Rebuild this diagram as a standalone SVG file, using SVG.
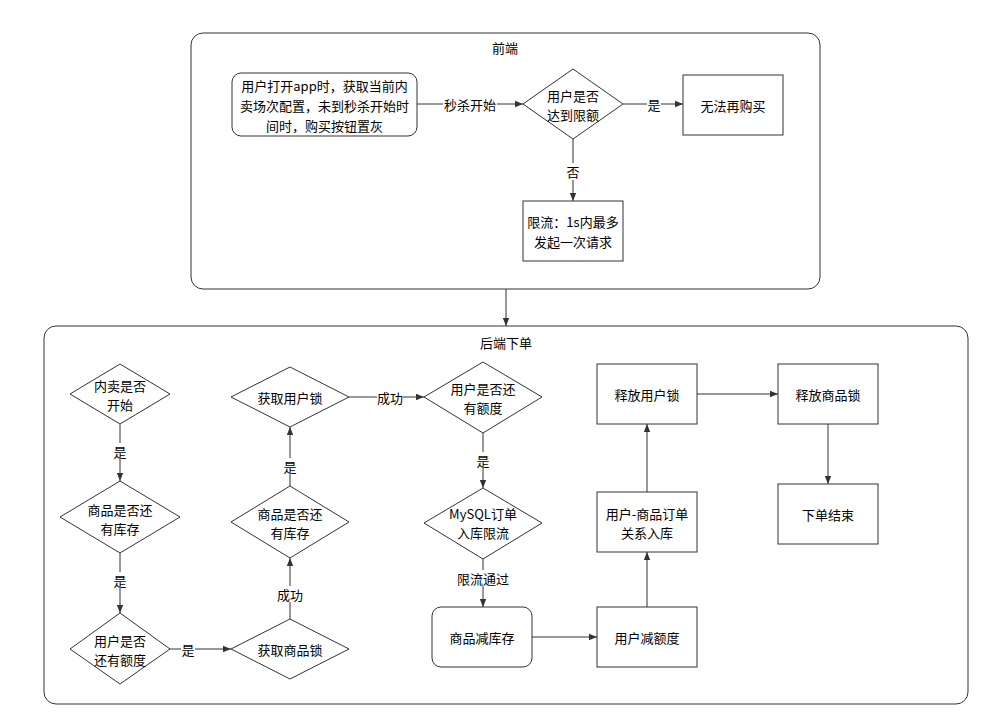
<svg xmlns="http://www.w3.org/2000/svg" width="989" height="721" viewBox="0 0 989 721">
<defs>
<style>
.c{fill:#fff;stroke:#333;stroke-width:1}
.n{fill:#fff;stroke:#333;stroke-width:1}
.t{font-family:"Noto Sans CJK SC","Noto Sans",sans-serif;font-size:13px;fill:#000;text-anchor:middle;dominant-baseline:central}
.e{fill:none;stroke:#333;stroke-width:1;marker-end:url(#a)}
.lb{fill:#fff}
</style>
<marker id="a" viewBox="0 0 10 10" refX="10" refY="5" markerWidth="8" markerHeight="8" markerUnits="userSpaceOnUse" orient="auto">
<path d="M0,1 L10,5 L0,9 Z" fill="#333"/>
</marker>
</defs>
<rect width="989" height="721" fill="#fff"/>
<g id="frontend">
<rect class="c" x="191" y="33" width="629" height="256" rx="12"/>
<text class="t" x="505" y="47">前端</text>
</g>
<g id="backend">
<rect class="c" x="44" y="326" width="924" height="378" rx="12"/>
<text class="t" x="506" y="342">后端下单</text>
</g>
<g id="connectors">
<path class="e" d="M417,104 L523,104"/>
<rect class="lb" x="443" y="96" width="54" height="16"/>
<text class="t" x="470" y="104">秒杀开始</text>
<path class="e" d="M623,104 L683,104"/>
<rect class="lb" x="647" y="96" width="14" height="16"/>
<text class="t" x="654" y="104">是</text>
<path class="e" d="M573,139 L573,201"/>
<rect class="lb" x="566" y="163" width="14" height="17"/>
<text class="t" x="573" y="171">否</text>
<path class="e" d="M506,289 L506,326"/>

<path class="e" d="M120,424 L120,481"/>
<rect class="lb" x="113" y="443" width="14" height="16"/>
<text class="t" x="120" y="451">是</text>
<path class="e" d="M120,553 L120,613"/>
<rect class="lb" x="113" y="572" width="14" height="16"/>
<text class="t" x="120" y="580">是</text>
<path class="e" d="M170,649 L231,649"/>
<rect class="lb" x="181" y="641" width="14" height="16"/>
<text class="t" x="188" y="649">是</text>
<path class="e" d="M290,619 L290,558"/>
<rect class="lb" x="277" y="586" width="26" height="16"/>
<text class="t" x="290" y="594">成功</text>
<path class="e" d="M290,486 L290,427"/>
<rect class="lb" x="283" y="458" width="14" height="16"/>
<text class="t" x="290" y="466">是</text>
<path class="e" d="M349,397 L424,397"/>
<rect class="lb" x="377" y="389" width="26" height="16"/>
<text class="t" x="390" y="397">成功</text>
<path class="e" d="M483,433 L483,488"/>
<rect class="lb" x="476" y="452" width="14" height="16"/>
<text class="t" x="483" y="460">是</text>
<path class="e" d="M483,559 L483,607"/>
<rect class="lb" x="457" y="570" width="52" height="16"/>
<text class="t" x="483" y="578">限流通过</text>
<path class="e" d="M532,637 L597,637"/>
<path class="e" d="M647,607 L647,552"/>
<path class="e" d="M647,492 L647,424"/>
<path class="e" d="M697,394 L778,394"/>
<path class="e" d="M828,424 L828,484"/>
</g>
<g id="n1">
<rect class="n" x="232" y="73" width="185" height="63" rx="9"/>
<text class="t" x="324.5" y="85">用户打开app时，获取当前内</text>
<text class="t" x="324.5" y="105">卖场次配置，未到秒杀开始时</text>
<text class="t" x="324.5" y="125">间时，购买按钮置灰</text>
</g>
<g id="n2">
<path class="n" d="M573,69 L623,104 L573,139 L523,104 Z"/>
<text class="t" x="573" y="95">用户是否</text>
<text class="t" x="573" y="114">达到限额</text>
</g>
<g id="n3">
<rect class="n" x="683" y="75" width="100" height="60"/>
<text class="t" x="733" y="105">无法再购买</text>
</g>
<g id="n4">
<rect class="n" x="523" y="201" width="100" height="60"/>
<text class="t" x="573" y="221">限流：1s内最多</text>
<text class="t" x="573" y="241">发起一次请求</text>
</g>
<g id="b1">
<path class="n" d="M120,364 L170,394 L120,424 L70,394 Z"/>
<text class="t" x="120" y="385">内卖是否</text>
<text class="t" x="120" y="404">开始</text>
</g>
<g id="b2">
<path class="n" d="M120,481 L180,517 L120,553 L60,517 Z"/>
<text class="t" x="120" y="509">商品是否还</text>
<text class="t" x="120" y="528">有库存</text>
</g>
<g id="b3">
<path class="n" d="M120,613 L170,649 L120,684 L70,649 Z"/>
<text class="t" x="120" y="640">用户是否</text>
<text class="t" x="120" y="659">还有额度</text>
</g>
<g id="b4">
<path class="n" d="M290,619 L349,649 L290,679 L231,649 Z"/>
<text class="t" x="290" y="649">获取商品锁</text>
</g>
<g id="b5">
<path class="n" d="M290,486 L349,522 L290,558 L231,522 Z"/>
<text class="t" x="290" y="513">商品是否还</text>
<text class="t" x="290" y="532">有库存</text>
</g>
<g id="b6">
<path class="n" d="M290,367 L349,397 L290,427 L231,397 Z"/>
<text class="t" x="290" y="397">获取用户锁</text>
</g>
<g id="b7">
<path class="n" d="M483,362 L542,397 L483,433 L424,397 Z"/>
<text class="t" x="483" y="388">用户是否还</text>
<text class="t" x="483" y="407">有额度</text>
</g>
<g id="b8">
<path class="n" d="M483,488 L542,523 L483,559 L424,523 Z"/>
<text class="t" x="483" y="513">MySQL订单</text>
<text class="t" x="483" y="532">入库限流</text>
</g>
<g id="b9">
<rect class="n" x="432" y="607" width="100" height="60" rx="9"/>
<text class="t" x="482" y="637">商品减库存</text>
</g>
<g id="b10">
<rect class="n" x="597" y="607" width="100" height="60"/>
<text class="t" x="647" y="637">用户减额度</text>
</g>
<g id="b11">
<rect class="n" x="597" y="492" width="100" height="60"/>
<text class="t" x="647" y="513">用户-商品订单</text>
<text class="t" x="647" y="532">关系入库</text>
</g>
<g id="b12">
<rect class="n" x="597" y="364" width="100" height="60"/>
<text class="t" x="647" y="394">释放用户锁</text>
</g>
<g id="b13">
<rect class="n" x="778" y="364" width="100" height="60"/>
<text class="t" x="828" y="394">释放商品锁</text>
</g>
<g id="b14">
<rect class="n" x="778" y="484" width="100" height="60"/>
<text class="t" x="828" y="514">下单结束</text>
</g>
</svg>
